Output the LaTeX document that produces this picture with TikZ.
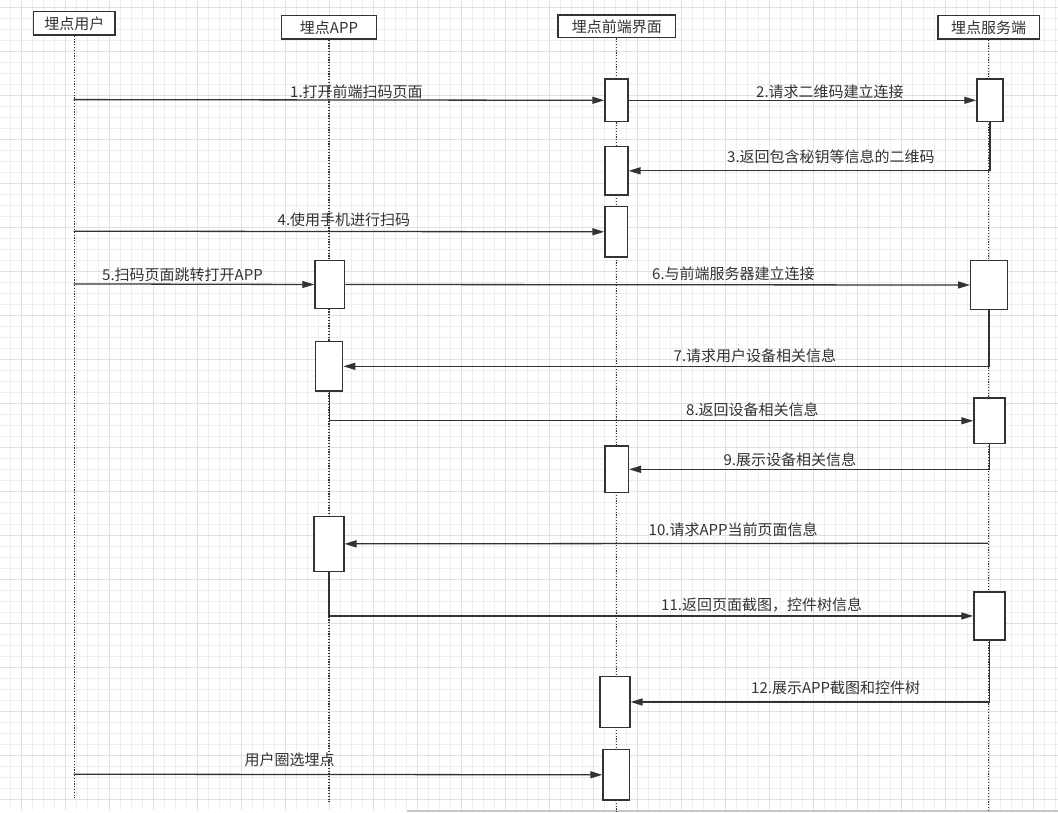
\documentclass[tikz,border=0pt]{standalone}
\usepackage{fontspec}
\setmainfont{Noto Sans CJK SC}
\usetikzlibrary{arrows.meta}
\definecolor{ink}{HTML}{333333}
\definecolor{gridminor}{HTML}{EEEEEE}
\definecolor{gridmajor}{HTML}{E0E0E0}
\begin{document}
\begin{tikzpicture}[x=1pt,y=-1pt,
  txt/.style={font=\fontsize{15pt}{18pt}\selectfont, text=ink},
  head/.style={txt, draw=ink, line width=1.4pt, fill=white, inner sep=0, anchor=north west},
  act/.style={draw=ink, line width=1.3pt, fill=white, inner sep=0, anchor=north west},
  life/.style={draw=ink, line width=1.2pt, dash pattern=on 1.2pt off 1.6pt},
  msg/.style={draw=ink, line width=1.3pt, -{Triangle[length=12pt,width=7pt]}},
  lbl/.style={txt, anchor=base west, inner sep=0}
]
\useasboundingbox (0,0) rectangle (1058,812);
\fill[white] (0,0) rectangle (1058,812);
% grid
\foreach \i in {0,...,95} {\pgfmathsetmacro\gx{10.7+11*\i}
  \draw[gridminor, line width=0.9pt] (\gx,0) -- (\gx,810);}
\foreach \j in {0,...,72} {\pgfmathsetmacro\gy{7.3+11*\j}
  \draw[gridminor, line width=0.9pt] (0,\gy) -- (1058,\gy);}
\foreach \i in {0,...,23} {\pgfmathsetmacro\gx{21.7+44*\i}
  \draw[gridmajor, line width=0.9pt] (\gx,0) -- (\gx,810);}
\foreach \j in {0,...,18} {\pgfmathsetmacro\gy{7.3+44*\j}
  \draw[gridmajor, line width=0.9pt] (0,\gy) -- (1058,\gy);}
\draw[gray!45, line width=1.5pt] (407,810.8) -- (1058,810.8);

% headers
\node[head, minimum width=81.3pt, minimum height=23.3pt] (hu) at (33,11) {埋点用户};
\node[head, minimum width=94.7pt, minimum height=23.3pt] (ha) at (281,15) {埋点APP};
\node[head, minimum width=117.7pt, minimum height=22.7pt] (hf) at (557.3,14.3) {埋点前端界面};
\node[head, minimum width=101.4pt, minimum height=23.3pt] (hs) at (937.3,15) {埋点服务端};

% lifelines
\draw[life] (hu.south) -- ++(0,762);
\draw[life] (ha.south) -- ++(0,762);
\draw[life] (hf.south) -- ++(0,773);
\draw[life] (hs.south) -- ++(0,772);

% activation boxes
\node[act, minimum width=23pt, minimum height=42.7pt] (f1) at (604.3,78.3) {};
\node[act, minimum width=26pt, minimum height=42.7pt] (s1) at (976.3,78.3) {};
\node[act, minimum width=23pt, minimum height=48.3pt] (f2) at (604.3,146) {};
\node[act, minimum width=22.4pt, minimum height=50.3pt] (f3) at (604.3,206) {};
\node[act, minimum width=29.7pt, minimum height=47.7pt] (a5) at (314.3,260) {};
\node[act, minimum width=36.7pt, minimum height=48.7pt] (s6) at (970,260) {};
\node[act, minimum width=27pt, minimum height=49.3pt] (a7) at (315,341) {};
\node[act, minimum width=31pt, minimum height=45.7pt] (s8) at (973.3,397.3) {};
\node[act, minimum width=23.4pt, minimum height=46.7pt] (f9) at (604.3,445.3) {};
\node[act, minimum width=29.8pt, minimum height=55pt] (a10) at (313.4,515.7) {};
\node[act, minimum width=31pt, minimum height=48pt] (s11) at (973.3,591.3) {};
\node[act, minimum width=30pt, minimum height=50.7pt] (f12) at (599.3,676) {};
\node[act, minimum width=26.7pt, minimum height=50.3pt] (f13) at (602.3,749) {};

% free ends on lifelines
\coordinate (u1) at (73.7,99.6);
\coordinate (u4) at (73.7,231.2);
\coordinate (u5) at (73.7,283.9);
\coordinate (s10) at (988.3,543.2);
\coordinate (u13) at (73.7,774.2);

% messages
\draw[msg] (u1) -- (f1.west);
\draw[msg] (f1.east) -- (s1.west);
\draw[msg] (s1.south) |- (f2.east);
\draw[msg] (u4) -- (f3.west);
\draw[msg] (u5) -- (a5.west);
\draw[msg] (a5.east) -- (s6.west);
\draw[msg] (s6.south) |- (a7.east);
\draw[msg] (a7.south) |- (s8.west);
\draw[msg] (s8.south) |- (f9.east);
\draw[msg] (s10) -- (a10.east);
\draw[msg] (a10.south) |- (s11.west);
\draw[msg] (s11.south) |- (f12.east);
\draw[msg] (u13) -- (f13.west);

% labels
\node[lbl] (l1) at (290,97.3) {1.打开前端扫码页面};
\node[lbl] (l2) at (756,97.3) {2.请求二维码建立连接};
\node[lbl] (l3) at (727,162.3) {3.返回包含秘钥等信息的二维码};
\node[lbl] (l4) at (277.5,225.7) {4.使用手机进行扫码};
\node[lbl] (l5) at (102,280.7) {5.扫码页面跳转打开APP};
\node[lbl] (l6) at (652,279) {6.与前端服务器建立连接};
\node[lbl] (l7) at (673.5,361.7) {7.请求用户设备相关信息};
\node[lbl] (l8) at (686,415) {8.返回设备相关信息};
\node[lbl] (l9) at (723.3,465) {9.展示设备相关信息};
\node[lbl] (l10) at (648.5,535) {10.请求APP当前页面信息};
\node[lbl] (l11) at (661,610) {11.返回页面截图，控件树信息};
\node[lbl] (l12) at (751,693.3) {12.展示APP截图和控件树};
\node[lbl] (l13) at (244.5,765.7) {用户圈选埋点};
\end{tikzpicture}
\end{document}
